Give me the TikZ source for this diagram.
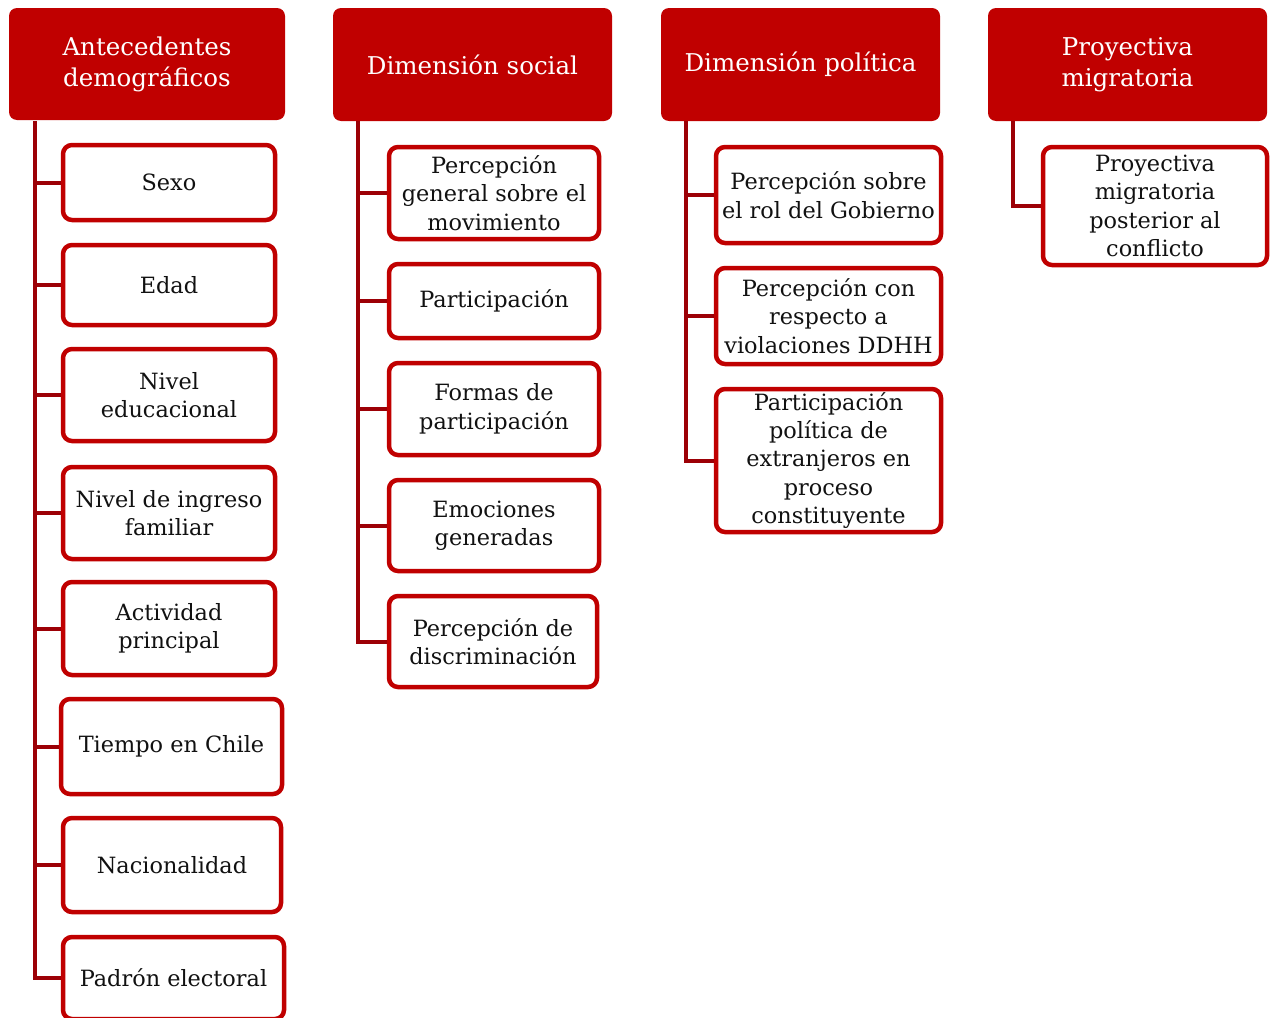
\documentclass[tikz,border=0pt]{standalone}
\usepackage{fontspec}
\setmainfont{DejaVu Serif}
\definecolor{hdred}{HTML}{C00000}
\definecolor{conred}{HTML}{9C0006}
\definecolor{txt}{HTML}{111111}
\newcommand{\leaffont}{\fontsize{22.4}{28.4}\selectfont}
\newcommand{\headfont}{\fontsize{24.5}{31}\selectfont}
\tikzset{
  head/.style={fill=hdred, draw=none, rounded corners=8pt, text=white, font=\headfont, align=center, inner sep=0pt},
  leaf/.style={draw=hdred, line width=4.5pt, rounded corners=9pt, fill=white, text=txt, align=center, font=\leaffont, inner sep=0pt},
  conn/.style={draw=conred, line width=4pt, line join=miter}
}
\begin{document}
\begin{tikzpicture}[x=1pt,y=-1pt]
\useasboundingbox (0,0) rectangle (1271,1017);
% headers
\node[head, minimum width=276pt, minimum height=112pt] (h1) at (147,64) {Antecedentes\\demográficos};
\node[head, minimum width=279pt, minimum height=113pt] (h2) at (472.5,64.5) {Dimensión social};
\node[head, minimum width=279pt, minimum height=113pt] (h3) at (800.5,64.5) {Dimensión política};
\node[head, minimum width=279pt, minimum height=113pt] (h4) at (1127.5,64.5) {Proyectiva\\migratoria};
% trunk tops
\coordinate (t1) at (35,121);
\coordinate (t2) at (358,121);
\coordinate (t3) at (686,121);
\coordinate (t4) at (1013,121);
% column 1
\node[leaf, minimum width=212pt, minimum height=75pt] (a1) at (169,182.5) {Sexo};
\node[leaf, minimum width=212pt, minimum height=80pt] (a2) at (169,285) {Edad};
\node[leaf, minimum width=212pt, minimum height=92pt] (a3) at (169,395) {Nivel\\educacional};
\node[leaf, minimum width=212pt, minimum height=92pt] (a4) at (169,513) {Nivel de ingreso\\familiar};
\node[leaf, minimum width=212pt, minimum height=93pt] (a5) at (169,628.5) {Actividad\\principal};
\node[leaf, minimum width=221pt, minimum height=95pt] (a6) at (171.5,746.5) {Tiempo en Chile};
\node[leaf, minimum width=218pt, minimum height=94pt] (a7) at (172,865) {Nacionalidad};
\node[leaf, minimum width=221pt, minimum height=82pt] (a8) at (173.5,978) {Padrón electoral};
% column 2
\node[leaf, minimum width=210pt, minimum height=92pt] (b1) at (494,193) {Percepción\\general sobre el\\movimiento};
\node[leaf, minimum width=210pt, minimum height=74pt] (b2) at (494,301) {Participación};
\node[leaf, minimum width=210pt, minimum height=92pt] (b3) at (494,409) {Formas de\\participación};
\node[leaf, minimum width=210pt, minimum height=91pt] (b4) at (494,525.5) {Emociones\\generadas};
\node[leaf, minimum width=208pt, minimum height=91pt] (b5) at (493,641.5) {Percepción de\\discriminación};
% column 3
\node[leaf, minimum width=225pt, minimum height=96pt] (c1) at (828.5,195) {Percepción sobre\\el rol del Gobierno};
\node[leaf, minimum width=225pt, minimum height=96pt] (c2) at (828.5,316) {Percepción con\\respecto a\\violaciones DDHH};
\node[leaf, minimum width=225pt, minimum height=143pt] (c3) at (828.5,460.5) {Participación\\política de\\extranjeros en\\proceso\\constituyente};
% column 4
\node[leaf, minimum width=224pt, minimum height=118pt] (d1) at (1155,206) {Proyectiva\\migratoria\\posterior al\\conflicto};
% connectors
\foreach \n in {a1,a2,a3,a4,a5,a6,a7,a8} \draw[conn] (t1) |- (\n.west);
\foreach \n in {b1,b2,b3,b4,b5} \draw[conn] (t2) |- (\n.west);
\foreach \n in {c1,c2,c3} \draw[conn] (t3) |- (\n.west);
\draw[conn] (t4) |- (d1.west);
\end{tikzpicture}
\end{document}
